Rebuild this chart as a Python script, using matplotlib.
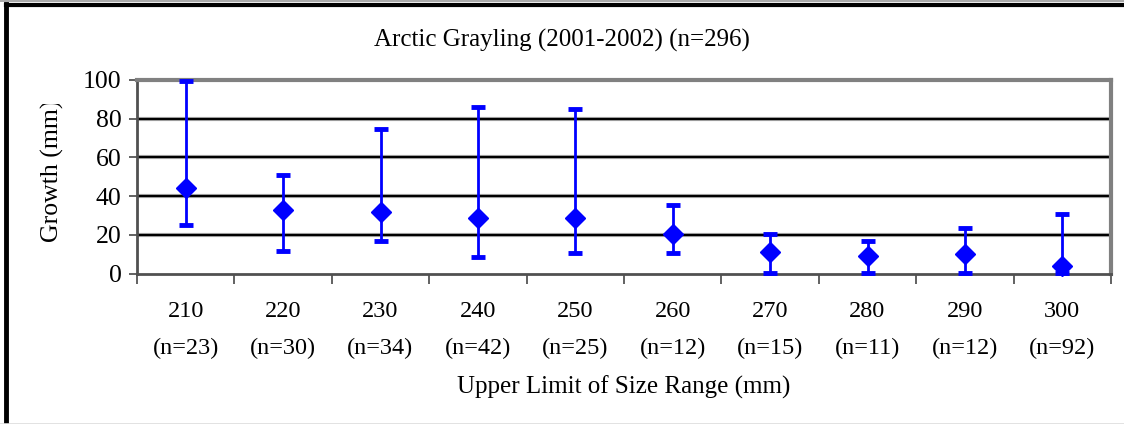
import matplotlib
matplotlib.use("Agg")
import matplotlib.pyplot as plt
import numpy as np
from matplotlib.lines import Line2D
from matplotlib.transforms import Bbox

categories = ["210", "220", "230", "240", "250", "260", "270", "280", "290", "300"]
counts = [23, 30, 34, 42, 25, 12, 15, 11, 12, 92]
mean_growth = [44.3, 32.7, 31.9, 28.8, 28.8, 20.5, 11.2, 9.1, 10.3, 3.9]
upper = [99.6, 50.8, 74.8, 86.2, 85.0, 35.5, 20.3, 16.9, 23.3, 30.5]
lower = [25.3, 11.7, 16.9, 8.6, 10.7, 10.7, 0.5, 0.5, 0.5, 0.5]
yticks = [0, 20, 40, 60, 80, 100]

plt.rcParams['font.family'] = ['Liberation Serif', 'DejaVu Serif']
FS = 17.5

fig = plt.figure(figsize=(11.24, 4.24), dpi=100)
W, H = 1124, 424
ax = fig.add_axes([137 / W, 1 - 273.5 / H, (1111 - 137) / W, (273.5 - 80) / H])

x = np.arange(len(categories))
mean = np.array(mean_growth)
yerr = [mean - np.array(lower), np.array(upper) - mean]
ax.errorbar(x, mean, yerr=yerr, fmt='D', color='#0000FF', ecolor='#0000FF',
            markersize=10, elinewidth=2, capsize=5, capthick=3.5, zorder=5,
            clip_on=False)

ax.set_xlim(-0.5, len(categories) - 0.5)
ax.set_ylim(0, 100)
ax.set_yticks(yticks)
ax.set_yticklabels([str(v) for v in yticks], fontsize=18.5)
ax.set_xticks(x)
ax.set_xticklabels(categories, fontsize=FS)
ax.tick_params(axis='x', which='major', length=0, pad=20)
ax.set_xticks(np.arange(-0.5, len(categories), 1.0), minor=True)
ax.tick_params(axis='x', which='minor', length=7, width=1.3, color='#555555')
ax.tick_params(axis='y', length=6, width=1.3, color='#555555', pad=5)

# second row of category labels (sample sizes)
trans = ax.get_xaxis_transform()
for xi, n in zip(x, counts):
    ax.text(xi, -(348 - 273.5) / (273.5 - 80), f"(n={n})", transform=trans,
            ha='center', va='center', fontsize=FS)

for v in yticks[1:-1]:
    ax.axhline(v, color='#B0B0B0', linewidth=3, zorder=1)
    ax.axhline(v, color='black', linewidth=1.6, zorder=2)

for side in ['top', 'right']:
    ax.spines[side].set_color('#808080')
    ax.spines[side].set_linewidth(3)
for side in ['left', 'bottom']:
    ax.spines[side].set_color('#505050')
    ax.spines[side].set_linewidth(2)

ylab = ax.set_ylabel("Growth (mm)", fontsize=18.5)
ylab.set_va('center')
ax.yaxis.set_label_coords((52 - 137) / 974, (273.5 - 171) / (273.5 - 80))
ylab.set_clip_box(Bbox.from_extents(0, 0, W, H - 104))
ylab.set_clip_on(True)

ax.set_xlabel("Upper Limit of Size Range (mm)", fontsize=18)
xl = ax.xaxis.label
xl.set_va('center')
ax.xaxis.set_label_coords(0.5, -(387 - 273.5) / (273.5 - 80))

fig.text(0.5, 1 - 40 / H, "Arctic Grayling (2001-2002) (n=296)", ha='center', va='center',
         fontsize=18)

# outer frame
fig.add_artist(Line2D([6 / W, 6 / W], [0, 1 - 4 / H], color='black', linewidth=3.5, transform=fig.transFigure))
fig.add_artist(Line2D([6 / W, 1], [1 - 5 / H, 1 - 5 / H], color='black', linewidth=3, transform=fig.transFigure))
fig.add_artist(Line2D([0, 1], [1 - 1 / H, 1 - 1 / H], color='#999999', linewidth=1.2, transform=fig.transFigure))
fig.add_artist(Line2D([0, 1], [0.5 / H, 0.5 / H], color='#DDDDDD', linewidth=1.2, transform=fig.transFigure))

fig.savefig("out.png", dpi=100)
